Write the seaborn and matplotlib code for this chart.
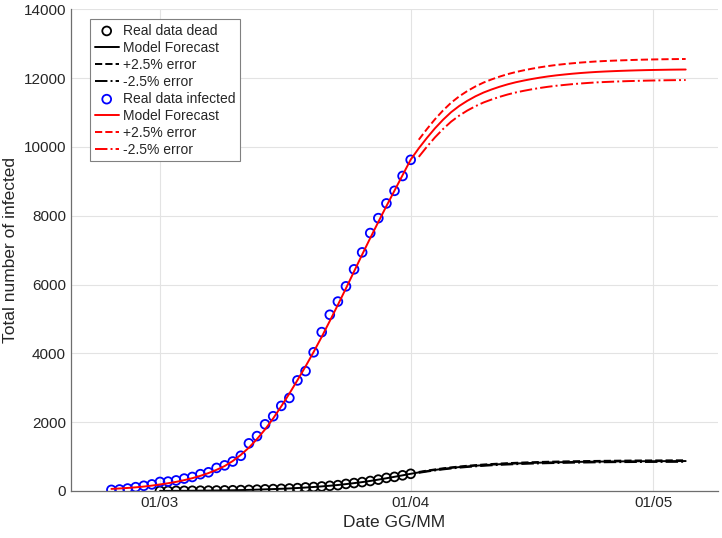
import pandas as pd
import matplotlib
matplotlib.use("Agg")
import matplotlib.pyplot as plt
import matplotlib.dates as mdates
import seaborn as sns

# ==================== data (daily) ====================
INFECTED_START = "2020-02-24"   # real data infected: 24/02 -> 01/04
DEAD_START = "2020-03-01"       # real data dead: 01/03 -> 01/04
ERR_START = "2020-04-02"        # +/- 2.5% error curves: 02/04 -> 05/05

infected_real = [32, 43, 71, 111, 151, 191, 263, 273, 307, 360, 407, 488, 543, 670, 744, 856,
                 1023, 1384, 1595, 1937, 2172, 2473, 2704, 3214, 3484, 4031, 4617, 5122, 5505,
                 5948, 6442, 6935, 7497, 7930, 8358, 8724, 9155, 9625]

dead_real = [2, 3, 3, 4, 6, 8, 10, 13, 17, 21, 26, 32, 39, 48, 55, 63, 72, 83, 102, 115,
             131, 150, 169, 205, 230, 258, 290, 330, 380, 410, 455, 499]

infected_model = [60, 73, 88, 106, 128, 156,
                  190, 225, 265, 315, 372, 440, 520, 615, 725, 870, 1050, 1260, 1510,
                  1790, 2110, 2460, 2830, 3220, 3620, 4040, 4480, 4940, 5410, 5890, 6380,
                  6870, 7350, 7820, 8280, 8730, 9180, 9630,
                  9960, 10260, 10540, 10790, 11010, 11190, 11340, 11470, 11580, 11670,
                  11750, 11820, 11880, 11930, 11975, 12015, 12050, 12080, 12105, 12128,
                  12148, 12165, 12180, 12192, 12202, 12211, 12219, 12226, 12232, 12237,
                  12241, 12245, 12248, 12250]

infected_up = [10209, 10517, 10804, 11060, 11285, 11470, 11624, 11757, 11870, 11962,
               12044, 12116, 12177, 12228, 12274, 12315, 12351, 12382, 12408, 12431,
               12452, 12469, 12485, 12497, 12507, 12516, 12524, 12532, 12538, 12543,
               12547, 12551, 12554, 12556]

infected_low = [9711, 10004, 10277, 10520, 10735, 10910, 11057, 11183, 11291, 11378,
                11456, 11525, 11583, 11632, 11676, 11715, 11749, 11778, 11802, 11825,
                11844, 11861, 11876, 11887, 11897, 11906, 11914, 11920, 11926, 11931,
                11935, 11939, 11942, 11944]

dead_model = [2, 3, 4, 5, 7, 9, 11, 14, 17, 21, 26, 32, 39, 47, 55, 64, 74, 86, 100, 116,
              133, 152, 174, 200, 228, 258, 292, 330, 370, 412, 455, 499,
              540, 578, 612, 643, 670, 694, 715, 734, 750, 765, 778, 789, 799, 808, 816,
              823, 829, 834, 839, 843, 847, 850, 853, 856, 858, 860, 862, 864, 865, 866,
              867, 868, 869, 870]

dead_up = [553, 592, 627, 659, 687, 711, 733, 752, 769, 784, 797, 809, 819, 828, 836, 844,
           850, 855, 860, 864, 868, 871, 874, 877, 879, 882, 884, 886, 887, 888, 889, 890,
           891, 892]

dead_low = [527, 564, 597, 627, 653, 677, 697, 716, 731, 746, 759, 769, 779, 788, 796, 802,
            808, 813, 818, 822, 826, 829, 832, 835, 837, 839, 840, 842, 843, 844, 845, 846,
            847, 848]

X_TICKS = ["2020-03-01", "2020-04-01", "2020-05-01"]
X_LIM = ("2020-02-19", "2020-05-09")
Y_TICKS = [0, 2000, 4000, 6000, 8000, 10000, 12000, 14000]


def days(start, n):
    return pd.date_range(start, periods=n, freq="D")


# ==================== style ====================
sns.set_style("white")
plt.rcParams["font.family"] = ["Liberation Sans", "DejaVu Sans"]
TXT = "#262626"

fig = plt.figure(figsize=(7.22, 5.38), dpi=100)
ax = fig.add_axes([0.0983, 0.0874, 0.8962, 0.8953])

LW = 1.4
# dead (black)
sns.scatterplot(x=days(DEAD_START, len(dead_real)), y=dead_real, ax=ax, marker="o", s=40,
                color="black", facecolor="none", edgecolor="black", linewidth=1.3,
                label="Real data dead")
sns.lineplot(x=days(DEAD_START, len(dead_model)), y=dead_model, ax=ax, color="black",
             linewidth=LW, label="Model Forecast")
sns.lineplot(x=days(ERR_START, len(dead_up)), y=dead_up, ax=ax, color="black",
             linewidth=LW, linestyle="--", label="+2.5% error")
sns.lineplot(x=days(ERR_START, len(dead_low)), y=dead_low, ax=ax, color="black",
             linewidth=LW, linestyle="-.", label="-2.5% error")
# infected (blue / red)
sns.scatterplot(x=days(INFECTED_START, len(infected_real)), y=infected_real, ax=ax, marker="o",
                s=40, color="blue", facecolor="none", edgecolor="blue", linewidth=1.3,
                label="Real data infected")
sns.lineplot(x=days(INFECTED_START, len(infected_model)), y=infected_model, ax=ax, color="red",
             linewidth=LW, label="Model Forecast")
sns.lineplot(x=days(ERR_START, len(infected_up)), y=infected_up, ax=ax, color="red",
             linewidth=LW, linestyle="--", label="+2.5% error")
sns.lineplot(x=days(ERR_START, len(infected_low)), y=infected_low, ax=ax, color="red",
             linewidth=LW, linestyle="-.", label="-2.5% error")

# ==================== axes ====================
ax.set_xlim(pd.Timestamp(X_LIM[0]), pd.Timestamp(X_LIM[1]))
ax.set_ylim(0, 14000)
ax.set_xticks([pd.Timestamp(t) for t in X_TICKS])
ax.xaxis.set_major_formatter(mdates.DateFormatter("%d/%m"))
ax.set_yticks(Y_TICKS)
ax.grid(True, color="#e3e3e3", linewidth=0.8)
ax.set_axisbelow(True)
for side in ["top", "right"]:
    ax.spines[side].set_visible(False)
for side in ["left", "bottom"]:
    ax.spines[side].set_color("#6e6e6e")
    ax.spines[side].set_linewidth(0.9)
ax.tick_params(direction="in", length=3, width=0.8, colors="#6e6e6e",
               labelcolor=TXT, labelsize=11)
ax.set_xlabel("Date GG/MM", fontsize=12.5, color=TXT)
ax.set_ylabel("Total number of infected", fontsize=12.5, color=TXT)

handles, labels = ax.get_legend_handles_labels()
leg = ax.legend(handles, labels, loc="upper left", bbox_to_anchor=(0.030, 0.979),
                borderaxespad=0, fontsize=10, labelspacing=0.22, handlelength=1.75,
                handletextpad=0.3, borderpad=0.3, fancybox=False, framealpha=1,
                edgecolor="#808080")
leg.get_frame().set_linewidth(0.8)
for t in leg.get_texts():
    t.set_color(TXT)

plt.savefig("out.png", dpi=100)
plt.close()
